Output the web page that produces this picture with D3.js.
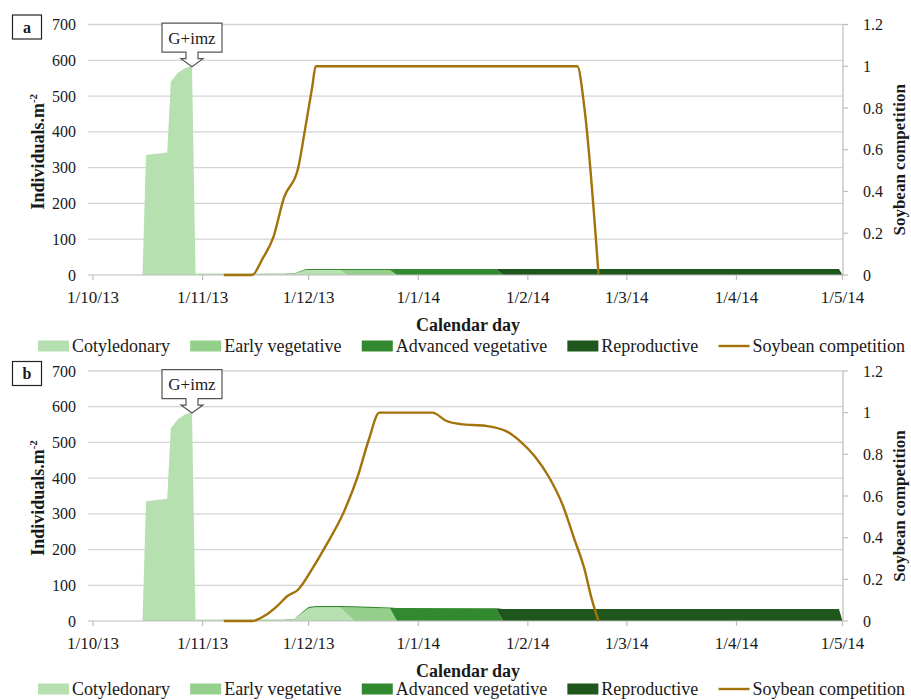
<!DOCTYPE html>
<html>
<head>
<meta charset="utf-8">
<script src="https://cdn.jsdelivr.net/npm/d3@7"></script>
<style>
  body { margin: 0; background: #fff; }
  svg text { font-family: "Liberation Serif", "Times New Roman", serif; fill: #1a1a1a; }
</style>
</head>
<body>
<svg id="chart" width="911" height="700"></svg>
<script>
// ---- shared categories and labels ----
const monthTicks = ["1/10/13", "1/11/13", "1/12/13", "1/1/14", "1/2/14", "1/3/14", "1/4/14", "1/5/14"];
const leftTicks = [0, 100, 200, 300, 400, 500, 600, 700];
const rightTicks = [0, 0.2, 0.4, 0.6, 0.8, 1, 1.2];
const stageNames = ["Cotyledonary", "Early vegetative", "Advanced vegetative", "Reproductive"];
const lineName = "Soybean competition";
const stageColors = ["#b6e0b0", "#95cf8c", "#33892f", "#1f561c"];
const lineColor = "#a2720b";
const annotationText = "G+imz";

// ---- panel a: weed density by stage (individuals per m²) ----
const stageDatesA = ["2013-10-15", "2013-10-16", "2013-10-22", "2013-10-23", "2013-10-25", "2013-10-27", "2013-10-29",
  "2013-10-30", "2013-11-17", "2013-11-18", "2013-11-24", "2013-11-25", "2013-11-27", "2013-11-30", "2013-12-01",
  "2013-12-10", "2013-12-12", "2013-12-24", "2013-12-26", "2014-01-23", "2014-01-25", "2014-04-30", "2014-05-01"];
const cotyA  = [0, 335, 342, 540, 565, 578, 585, 4, 4, 3, 2, 2, 2, 12, 13, 13, 0, 0, 0, 0, 0, 0, 0];
const earlyA = [0, 0, 0, 0, 0, 0, 0, 0, 0, 1, 2, 2, 2, 2, 1, 1, 14, 14, 0, 0, 0, 0, 0];
const advA   = [0, 0, 0, 0, 0, 0, 0, 0, 0, 0, 0, 1, 1, 2, 3, 3, 3, 3, 17, 17, 0, 0, 0];
const reproA = [0, 0, 0, 0, 0, 0, 0, 0, 0, 0, 0, 0, 0, 0, 0, 0, 0, 0, 0, 0, 16.5, 16.5, 0];

// panel a: soybean competition index
const soyDatesA = ["2013-11-07", "2013-11-15", "2013-11-18", "2013-11-21", "2013-11-24", "2013-11-28", "2013-11-30",
  "2013-12-02", "2013-12-03", "2014-02-15", "2014-02-17", "2014-02-21"];
const soyA = [0, 0, 0.08, 0.18, 0.37, 0.51, 0.70, 0.90, 1.0, 1.0, 0.80, 0];

// ---- panel b ----
const stageDatesB = ["2013-10-15", "2013-10-16", "2013-10-22", "2013-10-23", "2013-10-25", "2013-10-27", "2013-10-29",
  "2013-10-30", "2013-11-17", "2013-11-18", "2013-11-24", "2013-11-25", "2013-11-27", "2013-11-29", "2013-12-01",
  "2013-12-03", "2013-12-10", "2013-12-14", "2013-12-24", "2013-12-26", "2014-01-23", "2014-01-25", "2014-04-30", "2014-05-01"];
const cotyB  = [0, 335, 342, 540, 565, 578, 585, 4, 4, 3, 2, 2, 2, 20, 34, 37, 37, 0, 0, 0, 0, 0, 0, 0];
const earlyB = [0, 0, 0, 0, 0, 0, 0, 0, 0, 1, 2, 2, 2, 2, 2, 2, 2, 38, 35, 0, 0, 0, 0, 0];
const advB   = [0, 0, 0, 0, 0, 0, 0, 0, 0, 0, 0, 1, 1, 2, 3, 3, 3, 3, 3, 36.5, 35.5, 0, 0, 0];
const reproB = [0, 0, 0, 0, 0, 0, 0, 0, 0, 0, 0, 0, 0, 0, 0, 0, 0, 0, 0, 0, 0, 33.5, 33.5, 0];

const soyDatesB = ["2013-11-07", "2013-11-15", "2013-11-19", "2013-11-22", "2013-11-25", "2013-11-28", "2013-12-02",
  "2013-12-06", "2013-12-11", "2013-12-15", "2013-12-18", "2013-12-21", "2014-01-05", "2014-01-09", "2014-01-13",
  "2014-01-20", "2014-01-26", "2014-01-30", "2014-02-03", "2014-02-07", "2014-02-11", "2014-02-14", "2014-02-17",
  "2014-02-19", "2014-02-21"];
const soyB = [0, 0, 0.03, 0.07, 0.12, 0.15, 0.25, 0.365, 0.525, 0.70, 0.87, 1.0, 1.0, 0.96, 0.945,
  0.937, 0.91, 0.86, 0.79, 0.69, 0.55, 0.40, 0.25, 0.11, 0];

const annotationDate = "2013-10-29";

// ---- drawing ----
const parseISO = d3.timeParse("%Y-%m-%d");
const parseTick = d3.timeParse("%d/%m/%y");
const tickDates = monthTicks.map(parseTick);

const svg = d3.select("#chart");
const plotLeft = 88, plotRight = 843;
const x = d3.scaleTime()
  .domain([tickDates[0], tickDates[tickDates.length - 1]])
  .range([93, 842.5]);

function drawPanel(p) {
  const g = svg.append("g");
  const y = d3.scaleLinear().domain([0, 700]).range([p.bottom, p.top]);
  const y2 = d3.scaleLinear().domain([0, 1.2]).range([p.bottom, p.top]);

  // horizontal gridlines
  g.append("g").selectAll("line").data(leftTicks.slice(1)).join("line")
    .attr("x1", plotLeft).attr("x2", plotRight)
    .attr("y1", d => y(d)).attr("y2", d => y(d))
    .attr("stroke", "#d4d4d4").attr("stroke-width", 1.3);

  // stacked stage areas
  const rows = p.stageDates.map((d, i) => {
    const r = { date: parseISO(d) };
    stageNames.forEach((k, j) => r[k] = p.stages[j][i]);
    return r;
  });
  const series = d3.stack().keys(stageNames)(rows);
  const area = d3.area()
    .x(d => x(d.data.date))
    .y0(d => y(d[0]))
    .y1(d => y(d[1]));
  g.append("g").selectAll("path").data(series).join("path")
    .attr("d", area)
    .attr("fill", (d, i) => stageColors[i]);

  // x axis line and month ticks
  g.append("line").attr("x1", plotLeft).attr("x2", plotRight)
    .attr("y1", p.bottom).attr("y2", p.bottom)
    .attr("stroke", "#bdbdbd").attr("stroke-width", 1.2);
  g.append("g").selectAll("line").data(tickDates).join("line")
    .attr("x1", d => x(d)).attr("x2", d => x(d))
    .attr("y1", p.bottom).attr("y2", p.bottom + 5)
    .attr("stroke", "#bdbdbd").attr("stroke-width", 1.2);
  g.append("g").selectAll("text").data(monthTicks).join("text")
    .attr("x", (d, i) => x(tickDates[i]))
    .attr("y", p.bottom + 28)
    .attr("text-anchor", "middle")
    .attr("font-size", 17)
    .text(d => d);

  // left axis labels
  g.append("g").selectAll("text").data(leftTicks).join("text")
    .attr("x", 76).attr("y", d => y(d))
    .attr("dy", "0.35em")
    .attr("text-anchor", "end")
    .attr("font-size", 16)
    .text(d => d);

  // right axis: line, ticks, labels
  g.append("line").attr("x1", plotRight).attr("x2", plotRight)
    .attr("y1", p.top).attr("y2", p.bottom)
    .attr("stroke", "#bdbdbd").attr("stroke-width", 1.2);
  g.append("g").selectAll("line").data(rightTicks).join("line")
    .attr("x1", plotRight).attr("x2", plotRight + 5)
    .attr("y1", d => y2(d)).attr("y2", d => y2(d))
    .attr("stroke", "#bdbdbd").attr("stroke-width", 1.2);
  g.append("g").selectAll("text").data(rightTicks).join("text")
    .attr("x", 863).attr("y", d => y2(d))
    .attr("dy", "0.35em")
    .attr("font-size", 16)
    .text(d => d3.format("~g")(d));

  // soybean competition line
  const soyRows = p.soyDates.map((d, i) => ({ date: parseISO(d), v: p.soy[i] }));
  g.append("path").datum(soyRows)
    .attr("d", d3.line().x(d => x(d.date)).y(d => y2(d.v)).curve(d3.curveMonotoneX))
    .attr("fill", "none").attr("stroke", lineColor).attr("stroke-width", 2.4);

  // axis titles
  const yt = g.append("text")
    .attr("transform", `translate(44,${(p.top + p.bottom) / 2 + 2}) rotate(-90)`)
    .attr("text-anchor", "middle").attr("font-weight", "bold").attr("font-size", 18);
  yt.append("tspan").text("Individuals.m");
  yt.append("tspan").attr("dy", -7).attr("font-size", 11).text("-2");
  g.append("text")
    .attr("transform", `translate(905,${(p.top + p.bottom) / 2 + 10}) rotate(-90)`)
    .attr("text-anchor", "middle").attr("font-weight", "bold").attr("font-size", 17)
    .text(lineName);
  g.append("text")
    .attr("x", 468).attr("y", p.bottom + 56)
    .attr("text-anchor", "middle").attr("font-weight", "bold").attr("font-size", 18)
    .text("Calendar day");

  // panel letter box
  g.append("rect").attr("x", 12.5).attr("y", p.top - 9.5).attr("width", 29).attr("height", 24)
    .attr("fill", "#fff").attr("stroke", "#222").attr("stroke-width", 1.2);
  g.append("text").attr("x", 27).attr("y", p.top + 8)
    .attr("text-anchor", "middle").attr("font-weight", "bold").attr("font-size", 16)
    .text(p.label);

  // herbicide application callout pointing at the peak
  const ai = p.stageDates.indexOf(annotationDate);
  const tx = x(parseISO(annotationDate));
  const ty = y(p.stages[0][ai]) + 1;
  const bl = tx - 30, br = tx + 30, bt = ty - 43.5, bb = ty - 14.5;
  g.append("path")
    .attr("d", `M${bl},${bt}H${br}V${bb}H${tx + 6}V${ty - 8}H${tx + 11}L${tx},${ty}L${tx - 11},${ty - 8}H${tx - 6}V${bb}H${bl}Z`)
    .attr("fill", "#fff").attr("stroke", "#555").attr("stroke-width", 1.2);
  g.append("text").attr("x", tx).attr("y", (bt + bb) / 2)
    .attr("dy", "0.35em").attr("text-anchor", "middle").attr("font-size", 17)
    .text(annotationText);

  // legend, spread across the full width below the axis title
  const lg = g.append("g").attr("transform", `translate(0,${p.bottom + p.legendOffset})`);
  const entries = stageNames.map((n, i) => ({ name: n, color: stageColors[i], line: false }))
    .concat([{ name: lineName, color: lineColor, line: true }]);
  const texts = entries.map(e => lg.append("text").attr("y", 0).attr("dy", "0.35em")
    .attr("font-size", 18).text(e.name));
  const widths = texts.map(t => t.node().getComputedTextLength());
  const legStart = 38, legEnd = 905, keyW = 31, keyGap = 3;
  const gap = (legEnd - legStart - d3.sum(widths) - entries.length * (keyW + keyGap)) / (entries.length - 1);
  let cx = legStart;
  entries.forEach((e, i) => {
    if (e.line) {
      lg.append("line").attr("x1", cx).attr("x2", cx + keyW).attr("y1", 0).attr("y2", 0)
        .attr("stroke", e.color).attr("stroke-width", 2.4);
    } else {
      lg.append("rect").attr("x", cx).attr("y", -5.5).attr("width", keyW).attr("height", 11)
        .attr("fill", e.color);
    }
    texts[i].attr("x", cx + keyW + keyGap);
    cx += keyW + keyGap + widths[i] + gap;
  });
}

drawPanel({ label: "a", top: 24.5, bottom: 275, legendOffset: 71, stageDates: stageDatesA,
  stages: [cotyA, earlyA, advA, reproA], soyDates: soyDatesA, soy: soyA });
drawPanel({ label: "b", top: 371, bottom: 621, legendOffset: 68, stageDates: stageDatesB,
  stages: [cotyB, earlyB, advB, reproB], soyDates: soyDatesB, soy: soyB });
</script>
</body>
</html>
